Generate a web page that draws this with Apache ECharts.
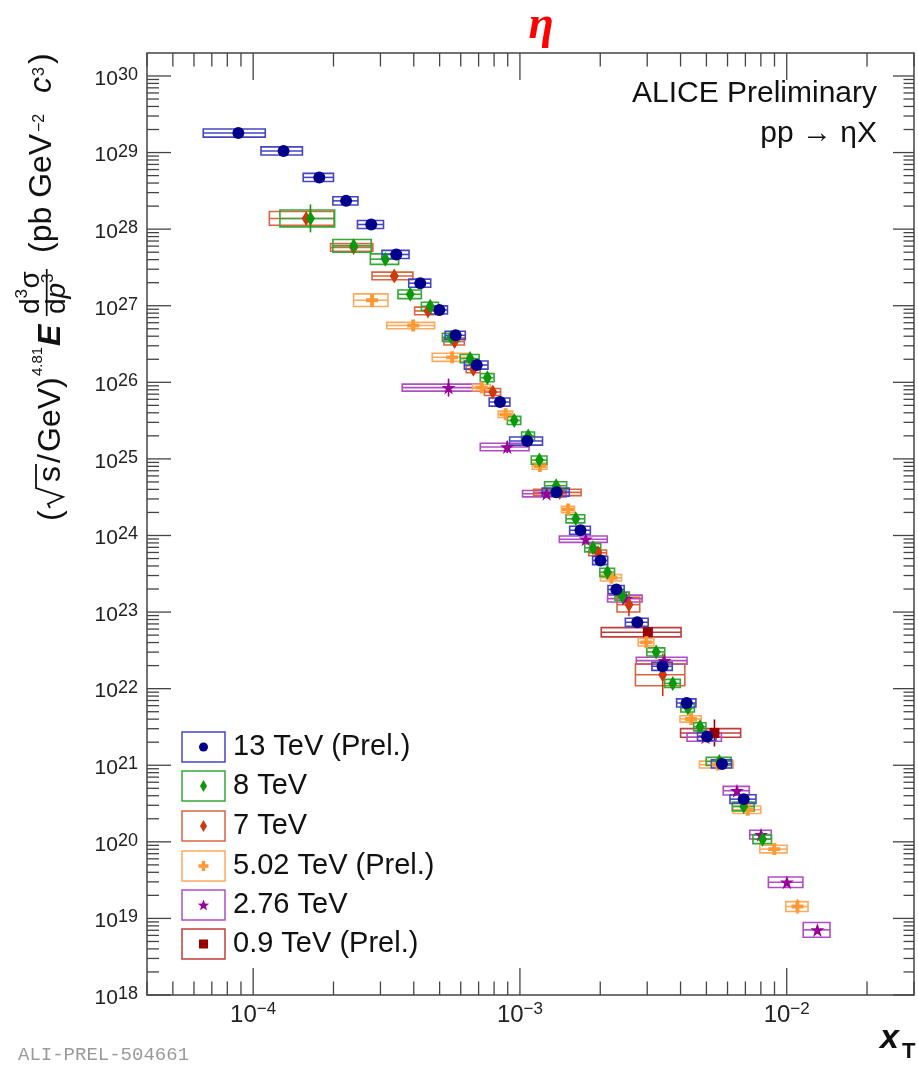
<!DOCTYPE html>
<html>
<head>
<meta charset="utf-8">
<script src="https://cdn.jsdelivr.net/npm/echarts@6/dist/echarts.min.js"></script>
<style>
  html, body { margin: 0; padding: 0; background: #fff; }
  #chart { width: 918px; height: 1065px; }
</style>
</head>
<body>
<div id="chart"></div>
<script>
// ---- eta invariant cross sections scaled by (sqrt(s)/GeV)^4.81 versus x_T ----
// x: x_T of the point, y: scaled cross section, dx: half width of the x_T bin,
// sys / stat: relative systematic / statistical uncertainty.

// 13 TeV (Prel.)
const x13 = [8.80e-5, 1.30e-4, 1.77e-4, 2.23e-4, 2.77e-4, 3.44e-4, 4.23e-4, 4.99e-4, 5.74e-4, 6.89e-4, 8.42e-4,
             1.065e-3, 1.371e-3, 1.686e-3, 2.003e-3, 2.298e-3, 2.754e-3, 3.424e-3, 4.217e-3, 5.03e-3, 5.72e-3, 6.90e-3];
const y13 = [1.80e29, 1.05e29, 4.74e28, 2.34e28, 1.15e28, 4.67e27, 1.97e27, 8.81e26, 4.11e26, 1.68e26, 5.53e25,
             1.71e25, 3.68e24, 1.17e24, 4.71e23, 1.97e23, 7.36e22, 1.96e22, 6.50e21, 2.38e21, 1.04e21, 3.61e20];
const dx13 = [2.3e-5, 2.3e-5, 2.3e-5, 2.4e-5, 3.1e-5, 4.0e-5, 4.0e-5, 3.6e-5, 5.0e-5, 7.0e-5, 7.5e-5,
              1.5e-4, 1.6e-4, 1.5e-4, 1.3e-4, 1.6e-4, 2.7e-4, 3.0e-4, 3.5e-4, 4.0e-4, 5.0e-4, 7.7e-4];
const sys13 = [0.13, 0.13, 0.13, 0.13, 0.13, 0.13, 0.13, 0.13, 0.13, 0.13, 0.13,
               0.13, 0.13, 0.13, 0.13, 0.13, 0.13, 0.13, 0.13, 0.13, 0.13, 0.14];
const st13 = [0.05, 0.03, 0.03, 0.03, 0.03, 0.03, 0.03, 0.03, 0.03, 0.03, 0.03,
              0.03, 0.03, 0.03, 0.03, 0.03, 0.03, 0.04, 0.04, 0.04, 0.05, 0.05];

// 8 TeV
const x8 = [1.64e-4, 2.38e-4, 3.13e-4, 3.88e-4, 4.61e-4, 5.52e-4, 6.50e-4, 7.55e-4, 9.52e-4, 1.074e-3, 1.183e-3, 1.367e-3,
            1.619e-3, 1.879e-3, 2.128e-3, 2.42e-3, 3.24e-3, 3.74e-3, 4.26e-3, 4.73e-3, 5.59e-3, 6.90e-3, 8.12e-3];
const y8 = [1.38e28, 6.05e27, 4.06e27, 1.41e27, 9.84e26, 3.87e26, 2.04e26, 1.15e26, 3.18e25, 1.99e25, 9.64e24, 4.46e24,
            1.65e24, 6.90e23, 3.31e23, 1.61e23, 3.02e22, 1.17e22, 5.60e21, 3.18e21, 1.12e21, 2.89e20, 1.08e20];
const dx8 = [3.8e-5, 3.9e-5, 3.8e-5, 3.9e-5, 3.4e-5, 4.0e-5, 5.3e-5, 4.5e-5, 5.5e-5, 6.0e-5, 8.0e-5, 1.3e-4,
             1.3e-4, 1.3e-4, 1.35e-4, 1.5e-4, 2.5e-4, 2.5e-4, 2.5e-4, 2.5e-4, 6.0e-4, 6.5e-4, 6.5e-4];
const sys8 = [0.29, 0.21, 0.17, 0.14, 0.13, 0.13, 0.13, 0.13, 0.13, 0.13, 0.13, 0.13,
              0.13, 0.13, 0.13, 0.13, 0.13, 0.13, 0.13, 0.13, 0.13, 0.14, 0.14];
const st8 = [0.52, 0.05, 0.04, 0.04, 0.04, 0.04, 0.04, 0.04, 0.04, 0.04, 0.04, 0.04,
             0.04, 0.04, 0.04, 0.04, 0.04, 0.04, 0.04, 0.04, 0.05, 0.05, 0.06];

// 7 TeV
const x7 = [1.58e-4, 2.38e-4, 3.38e-4, 4.52e-4, 5.69e-4, 6.69e-4, 7.91e-4, 1.41e-3, 1.962e-3, 2.562e-3, 3.43e-3];
const y7 = [1.38e28, 5.77e27, 2.45e27, 8.55e26, 3.41e26, 1.48e26, 7.47e25, 3.65e24, 5.94e23, 1.25e23, 1.52e22];
const dx7 = [4.3e-5, 4.3e-5, 5.9e-5, 4.9e-5, 5.0e-5, 4.0e-5, 5.5e-5, 2.85e-4, 1.5e-4, 2.5e-4, 7.2e-4];
const sys7 = [0.23, 0.12, 0.12, 0.12, 0.11, 0.11, 0.11, 0.10, 0.09, 0.25, 0.39];
const st7 = [0.10, 0.04, 0.05, 0.04, 0.04, 0.04, 0.04, 0.04, 0.05, 0.42, 0.90];

// 5.02 TeV (Prel.)
const x502 = [2.79e-4, 3.98e-4, 5.57e-4, 7.19e-4, 8.84e-4, 1.188e-3, 1.516e-3, 2.203e-3, 2.976e-3, 4.38e-3, 5.51e-3,
              7.14e-3, 8.98e-3, 1.097e-2];
const y502 = [1.18e27, 5.51e26, 2.12e26, 8.53e25, 3.82e25, 8.05e24, 2.19e24, 2.80e23, 4.03e22, 4.02e21, 1.02e21,
              2.62e20, 8.04e19, 1.43e19];
const dx502 = [4.1e-5, 8.1e-5, 8.8e-5, 5.5e-5, 5.5e-5, 7.5e-5, 8.5e-5, 2.0e-4, 2.0e-4, 4.0e-4, 8.0e-4,
               8.5e-4, 1.05e-3, 1.05e-3];
const sys502 = [0.21, 0.10, 0.13, 0.10, 0.10, 0.10, 0.10, 0.10, 0.12, 0.10, 0.11, 0.12, 0.12, 0.16];
const st502 = [0.05, 0.05, 0.05, 0.05, 0.05, 0.05, 0.05, 0.05, 0.05, 0.05, 0.05, 0.06, 0.10, 0.25];

// 2.76 TeV
const x276 = [5.40e-4, 8.96e-4, 1.258e-3, 1.765e-3, 2.50e-3, 3.48e-3, 4.96e-3, 6.51e-3, 8.01e-3, 1.0016e-2, 1.303e-2];
const y276 = [8.53e25, 1.43e25, 3.51e24, 8.95e23, 1.50e23, 2.32e22, 2.32e21, 4.65e20, 1.24e20, 2.97e19, 7.08e18];
const dx276 = [1.78e-4, 1.86e-4, 2.35e-4, 3.6e-4, 3.7e-4, 7.5e-4, 7.3e-4, 7.3e-4, 7.4e-4, 1.48e-3, 1.5e-3];
const sys276 = [0.11, 0.12, 0.10, 0.10, 0.11, 0.11, 0.13, 0.14, 0.14, 0.17, 0.25];
const st276 = [0.31, 0.20, 0.05, 0.05, 0.05, 0.05, 0.05, 0.06, 0.06, 0.08, 0.12];

// 0.9 TeV (Prel.)
const x09 = [3.017e-3, 5.36e-3];
const y09 = [5.45e22, 2.64e21];
const dx09 = [1.0e-3, 1.36e-3];
const sys09 = [0.15, 0.14];
const st09 = [0.06, 0.50];

// axis decades carrying a label
const xDecades = [-4, -3, -2];
const yDecades = [18, 19, 20, 21, 22, 23, 24, 25, 26, 27, 28, 29, 30];

// ---------------------------------------------------------------------------
const FONT = '"Liberation Sans", Arial, Helvetica, sans-serif';
const X_MIN = Math.log10(4e-5), X_MAX = Math.log10(0.03);
const Y_MIN = 18, Y_MAX = 30.3;
const AXIS_COLOR = '#444';

const PLUS = 'path://M3.4,0H6.6V3.4H10V6.6H6.6V10H3.4V6.6H0V3.4H3.4Z';
const STAR = 'path://M5,0L6.18,3.62L10,3.62L6.91,5.86L8.09,9.5L5,7.26L1.91,9.5L3.09,5.86L0,3.62L3.82,3.62Z';

const energies = [
  { name: '13 TeV (Prel.)', x: x13, y: y13, dx: dx13, sys: sys13, stat: st13,
    marker: '#00008b', box: '#4545c4', symbol: 'circle', size: 12, legend: 'circle' },
  { name: '8 TeV', x: x8, y: y8, dx: dx8, sys: sys8, stat: st8,
    marker: '#0b990b', box: '#35a835', symbol: 'diamond', size: [9, 15], legend: 'diamond' },
  { name: '7 TeV', x: x7, y: y7, dx: dx7, sys: sys7, stat: st7,
    marker: '#cc3a10', box: '#d9643f', symbol: 'diamond', size: [9, 15], legend: 'diamond' },
  { name: '5.02 TeV (Prel.)', x: x502, y: y502, dx: dx502, sys: sys502, stat: st502,
    marker: '#ff9933', box: '#ffaa5c', symbol: PLUS, size: 12, legend: 'plus' },
  { name: '2.76 TeV', x: x276, y: y276, dx: dx276, sys: sys276, stat: st276,
    marker: '#990099', box: '#b04cc6', symbol: STAR, size: 14, legend: 'star' },
  { name: '0.9 TeV (Prel.)', x: x09, y: y09, dx: dx09, sys: sys09, stat: st09,
    marker: '#990000', box: '#c03c3c', symbol: 'rect', size: 10, legend: 'square' }
];

const L = Math.log10;

// uncertainty boxes with bin-width bar and vertical statistical bar
function boxSeries(e) {
  const data = e.x.map((xv, i) => {
    const yv = e.y[i];
    return [L(xv), L(yv), L(xv - e.dx[i]), L(xv + e.dx[i]),
            L(yv / (1 + e.sys[i])), L(yv * (1 + e.sys[i])),
            L(yv / (1 + e.stat[i])), L(yv * (1 + e.stat[i]))];
  });
  return {
    type: 'custom', name: e.name, silent: true, z: 2,
    encode: { x: 0, y: 1 },
    data,
    renderItem: (params, api) => {
      const lx = api.value(0), ly = api.value(1);
      const c = api.coord([lx, ly]);
      const l = api.coord([api.value(2), ly])[0];
      const r = api.coord([api.value(3), ly])[0];
      const bot = api.coord([lx, api.value(4)])[1];
      const top = api.coord([lx, api.value(5)])[1];
      const sb = api.coord([lx, api.value(6)])[1];
      const stp = api.coord([lx, api.value(7)])[1];
      return {
        type: 'group',
        children: [
          { type: 'rect', shape: { x: l, y: top, width: r - l, height: bot - top },
            style: { fill: 'none', stroke: e.box, lineWidth: 1.6 } },
          { type: 'line', shape: { x1: l, y1: c[1], x2: r, y2: c[1] },
            style: { stroke: e.box, lineWidth: 1.6 } },
          { type: 'line', shape: { x1: c[0], y1: stp, x2: c[0], y2: sb },
            style: { stroke: e.marker, lineWidth: 1.6 } }
        ]
      };
    }
  };
}

function markerSeries(e) {
  return {
    type: 'scatter', name: e.name, silent: true, z: 3,
    symbol: e.symbol, symbolSize: e.size,
    itemStyle: { color: e.marker, opacity: 1 },
    emphasis: { disabled: true },
    data: e.x.map((xv, i) => [L(xv), L(e.y[i])])
  };
}

// log-decade ticks (major + 2..9 minors) on all four sides of the frame
const tickSeries = {
  type: 'custom', silent: true, z: 4,
  data: [[X_MIN, Y_MIN]],
  renderItem: (params, api) => {
    const children = [];
    const seg = (x1, y1, x2, y2) => children.push({
      type: 'line', shape: { x1, y1, x2, y2 }, style: { stroke: AXIS_COLOR, lineWidth: 1.3 }
    });
    for (let d = -5; d <= -1; d++) {
      for (let k = 1; k <= 9; k++) {
        const v = d + L(k);
        if (v < X_MIN || v > X_MAX) continue;
        const len = k === 1 ? 27 : 13.5;
        const pb = api.coord([v, Y_MIN]), pt = api.coord([v, Y_MAX]);
        seg(pb[0], pb[1], pb[0], pb[1] - len);
        seg(pt[0], pt[1], pt[0], pt[1] + len);
      }
    }
    for (let d = 17; d <= 30; d++) {
      for (let k = 1; k <= 9; k++) {
        const v = d + L(k);
        if (v < Y_MIN || v > Y_MAX) continue;
        const pl = api.coord([X_MIN, v]), pr = api.coord([X_MAX, v]);
        seg(pl[0], pl[1], pl[0] + (k === 1 ? 24 : 12), pl[1]);
        seg(pr[0], pr[1], pr[0] - (k === 1 ? 21 : 10.5), pr[1]);
      }
    }
    return { type: 'group', children };
  }
};

// ---- text helpers ----
function txt(text, x, y, size, extra, align) {
  const a = align || 'left';
  return {
    type: 'text', x, y, silent: true,
    style: Object.assign({
      text, fontSize: size, fontFamily: FONT, fill: '#111',
      align: a, textAlign: a, verticalAlign: 'middle', textVerticalAlign: 'middle'
    }, extra || {})
  };
}

// y-axis title, laid out along the text direction and turned upright
const yTitle = {
  type: 'group', x: 62, y: 530, rotation: Math.PI / 2, silent: true,
  children: [
    txt('(', 9, -11, 32),
    { type: 'polyline', silent: true,
      shape: { points: [[22, -12], [26, -14], [33, 1], [42, -26], [66, -26]] },
      style: { stroke: '#111', lineWidth: 1.8, fill: null } },
    txt('s', 48, -11, 32),
    txt('/', 67, -11, 32),
    txt('GeV)', 78, -11, 32),
    txt('4.81', 154, -24, 15),
    txt('E', 184, -11, 32, { fontWeight: 'bold', fontStyle: 'italic' }),
    txt('d', 216, -31, 28),
    txt('3', 231.5, -40, 17),
    txt('σ', 241.5, -31, 28),
    { type: 'line', silent: true, shape: { x1: 214, y1: -15.3, x2: 261, y2: -15.3 },
      style: { stroke: '#111', lineWidth: 1.7 } },
    txt('d', 216, -4.5, 28),
    txt('p', 231.5, -4.5, 28, { fontStyle: 'italic' }),
    txt('3', 247, -14, 17),
    txt('(pb GeV', 277, -19.7, 32),
    txt('−2', 398, -22, 16),
    txt('c', 437, -19.7, 32, { fontStyle: 'italic' }),
    txt('3', 454, -22, 16),
    txt(')', 466, -19.7, 32)
  ]
};

// legend drawn as framed entries
const legendRowY = [747, 786, 826, 866, 905, 944];
function legendMarker(e, cx, cy) {
  const st = { fill: e.marker };
  switch (e.legend) {
    case 'circle':
      return { type: 'circle', silent: true, shape: { cx, cy, r: 4.5 }, style: st };
    case 'diamond':
      return { type: 'polygon', silent: true,
        shape: { points: [[cx, cy - 6], [cx + 3.5, cy], [cx, cy + 6], [cx - 3.5, cy]] }, style: st };
    case 'plus':
      return { type: 'polygon', silent: true, shape: { points: [
        [cx - 1.7, cy - 5], [cx + 1.7, cy - 5], [cx + 1.7, cy - 1.7], [cx + 5, cy - 1.7], [cx + 5, cy + 1.7],
        [cx + 1.7, cy + 1.7], [cx + 1.7, cy + 5], [cx - 1.7, cy + 5], [cx - 1.7, cy + 1.7], [cx - 5, cy + 1.7],
        [cx - 5, cy - 1.7], [cx - 1.7, cy - 1.7]] }, style: st };
    case 'star': {
      const pts = [];
      for (let i = 0; i < 10; i++) {
        const r = i % 2 === 0 ? 6 : 2.5;
        const a = -Math.PI / 2 + i * Math.PI / 5;
        pts.push([cx + r * Math.cos(a), cy + 0.5 + r * Math.sin(a)]);
      }
      return { type: 'polygon', silent: true, shape: { points: pts }, style: st };
    }
    default:
      return { type: 'rect', silent: true, shape: { x: cx - 4.5, y: cy - 4.5, width: 9, height: 9 }, style: st };
  }
}
const legendEls = [];
energies.forEach((e, i) => {
  const cy = legendRowY[i];
  legendEls.push({ type: 'rect', silent: true, shape: { x: 182, y: cy - 15, width: 43, height: 30 },
    style: { fill: '#fff', stroke: e.box, lineWidth: 1.5 } });
  legendEls.push(legendMarker(e, 203.5, cy));
  legendEls.push(txt(e.name, 233, cy, 29));
});

// boxes of the lower energies first, so 13 TeV ends up on top
const drawOrder = energies.slice().reverse();

const option = {
  animation: false,
  backgroundColor: '#ffffff',
  grid: {
    left: 147, right: 4, top: 53, bottom: 70,
    show: true, borderColor: AXIS_COLOR, borderWidth: 1.5, backgroundColor: 'transparent',
    containLabel: false, outerBoundsMode: 'none'
  },
  xAxis: {
    type: 'value', min: X_MIN, max: X_MAX,
    axisLine: { show: false }, axisTick: { show: false }, splitLine: { show: false },
    axisLabel: {
      customValues: xDecades, margin: 6,
      formatter: v => '{b|10}{s|−' + Math.round(-v) + '}',
      rich: {
        b: { fontSize: 24, lineHeight: 28, fontFamily: FONT, color: '#222' },
        s: { fontSize: 17, lineHeight: 16, verticalAlign: 'top', fontFamily: FONT, color: '#222' }
      }
    }
  },
  yAxis: {
    type: 'value', min: Y_MIN, max: Y_MAX,
    axisLine: { show: false }, axisTick: { show: false }, splitLine: { show: false },
    axisLabel: {
      customValues: yDecades, margin: 9, padding: [6, 0, 0, 0],
      formatter: v => '{b|10}{s|' + Math.round(v) + '}',
      rich: {
        b: { fontSize: 21, lineHeight: 26, fontFamily: FONT, color: '#222' },
        s: { fontSize: 18, lineHeight: 14, verticalAlign: 'top', fontFamily: FONT, color: '#222' }
      }
    }
  },
  series: [].concat(
    drawOrder.map(boxSeries),
    drawOrder.map(markerSeries),
    [tickSeries]
  ),
  graphic: {
    elements: [
      { type: 'text', x: 541, y: 26, silent: true,
        style: { text: 'η', fontSize: 46, fontFamily: '"Liberation Serif", "DejaVu Serif", serif',
                 fontWeight: 'bold', fontStyle: 'italic', fill: '#ff0000',
                 align: 'center', textAlign: 'center', verticalAlign: 'middle', textVerticalAlign: 'middle' } },
      txt('ALICE Preliminary', 877, 93.5, 30, null, 'right'),
      txt('pp → ηX', 877, 133.5, 30, null, 'right'),
      yTitle,
      txt('x', 880, 1039, 34, { fontWeight: 'bold', fontStyle: 'italic' }),
      txt('T', 902, 1052, 22, { fontWeight: 'bold' }),
      txt('ALI-PREL-504661', 18, 1055, 19,
          { fontFamily: '"Liberation Mono", "DejaVu Sans Mono", monospace', fill: '#9a9a9a' })
    ].concat(legendEls)
  }
};

const chart = echarts.init(document.getElementById('chart'), null, { renderer: 'canvas' });
chart.setOption(option);
</script>
</body>
</html>
